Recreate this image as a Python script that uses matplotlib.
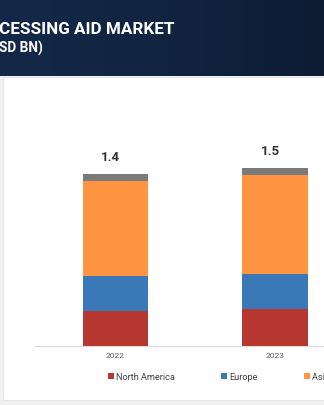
import matplotlib.pyplot as plt
from matplotlib.patches import Rectangle
import numpy as np

# data (USD BN)
years = ["2022", "2023"]
north_america = [0.285, 0.30]
europe = [0.285, 0.29]
asia_pacific = [0.77, 0.80]
rest_of_world = [0.06, 0.06]
total_labels = ["1.4", "1.5"]

series_names = ["North America", "Europe", "Asia Pacific", "Rest of the World"]
colors = ["#B5372F", "#3A78B7", "#FF9543", "#7A7A7A"]

font = "Roboto"

W, H = 324, 405
fig = plt.figure(figsize=(W / 100, H / 100), dpi=100)
fig.patch.set_facecolor("#F1F1F1")

# background layer in pixel coordinates
bg = fig.add_axes([0, 0, 1, 1], zorder=0)
bg.set_xlim(0, W)
bg.set_ylim(H, 0)
bg.axis("off")

# white chart panel
bg.add_patch(Rectangle((3, 77), W, 323, facecolor="white", edgecolor="#E6E6E6", lw=0.8))

# navy banner with a soft gradient
grad = np.linspace(0, 1, 256).reshape(1, -1)
bg.imshow(grad, extent=(0, W, 76, 0), cmap=plt.matplotlib.colors.LinearSegmentedColormap.from_list(
    "banner", ["#14294A", "#112440", "#0D1C33"]), aspect="auto", zorder=1)

bg.text(-1, 30, "CESSING AID MARKET", color="white", fontsize=12.3, fontweight="bold",
        family=font, va="center", ha="left", zorder=3)
bg.text(-1, 48, "SD BN)", color="white", fontsize=9.8, fontweight="bold",
        family=font, va="center", ha="left", zorder=3)

# chart axes: baseline at y=346px, left edge at x=35px
ax = fig.add_axes([35 / W, (H - 346) / H, (W - 35) / W, 221 / H], zorder=2)
ax.patch.set_alpha(0)
ax.set_xlim(-0.505, 1.307)
ax.set_ylim(0, 1.8)

x = np.arange(len(years))
bottom = np.zeros(len(years))
handles = []
for vals, name, c in zip([north_america, europe, asia_pacific, rest_of_world], series_names, colors):
    b = ax.bar(x, vals, 0.41, bottom=bottom, color=c, label=name)
    handles.append(b)
    bottom += np.array(vals)

for xi, top, lab in zip(x, bottom, total_labels):
    ax.text(xi - 0.03, top + 0.08, lab, ha="center", va="bottom", fontsize=9.5,
            color="#333333", fontweight="bold", family=font)

for s in ["top", "right", "left"]:
    ax.spines[s].set_visible(False)
ax.spines["bottom"].set_color("#D9D9D9")
ax.spines["bottom"].set_linewidth(0.8)
ax.set_yticks([])
ax.set_xticks(x)
ax.set_xticklabels(years, fontsize=6, color="#555555", family=font)
ax.tick_params(axis="x", length=0, pad=5)

# only the first three legend entries reach into the picture
fig.legend(handles=handles[:3], labels=series_names[:3], loc="center left", ncol=3,
           bbox_to_anchor=(108 / W, (H - 377) / H), frameon=False,
           prop={"family": font, "size": 6.6},
           handlelength=0.6, handleheight=0.6, handletextpad=0.25,
           columnspacing=5.1, borderpad=0, borderaxespad=0, labelcolor="#404040")

fig.savefig("out.png", dpi=100)
